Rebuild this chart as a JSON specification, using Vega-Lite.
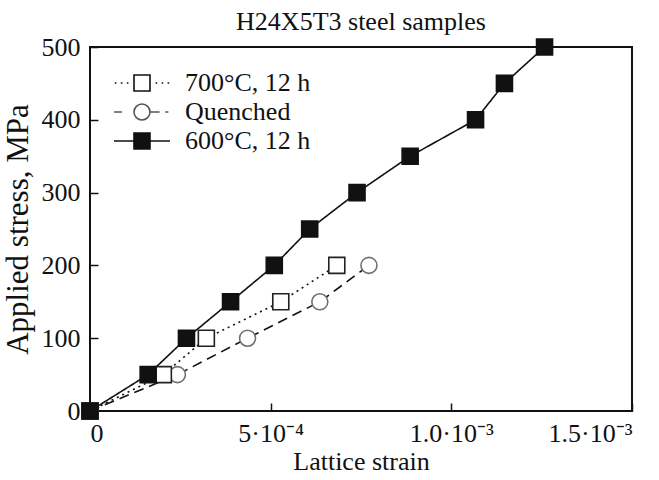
{
  "$schema": "https://vega.github.io/schema/vega-lite/v6.json",
  "autosize": "none",
  "width": 542,
  "height": 364,
  "padding": {"left": 90, "top": 47, "right": 27, "bottom": 69},
  "background": "white",
  "title": {"text": "H24X5T3 steel samples", "font": "Liberation Serif", "fontSize": 26, "fontWeight": "normal", "color": "#111", "offset": -1},
  "config": {
    "view": {"stroke": "#111", "strokeWidth": 2},
    "axis": {"labelFont": "Liberation Serif", "titleFont": "Liberation Serif", "labelFontSize": 26, "titleFontSize": 26, "titleFontWeight": "normal", "labelColor": "#111", "titleColor": "#111", "grid": false, "domain": false, "tickColor": "#111", "tickWidth": 1.5}
  },
  "data": {"values": [
    {"series": "Quenched", "strain": 0, "stress": 0},
    {"series": "Quenched", "strain": 0.000242, "stress": 50},
    {"series": "Quenched", "strain": 0.000436, "stress": 100},
    {"series": "Quenched", "strain": 0.000636, "stress": 150},
    {"series": "Quenched", "strain": 0.000772, "stress": 200},
    {"series": "700°C, 12 h", "strain": 0, "stress": 0},
    {"series": "700°C, 12 h", "strain": 0.000203, "stress": 50},
    {"series": "700°C, 12 h", "strain": 0.000322, "stress": 100},
    {"series": "700°C, 12 h", "strain": 0.000528, "stress": 150},
    {"series": "700°C, 12 h", "strain": 0.000683, "stress": 200},
    {"series": "600°C, 12 h", "strain": 0, "stress": 0},
    {"series": "600°C, 12 h", "strain": 0.000161, "stress": 50},
    {"series": "600°C, 12 h", "strain": 0.000267, "stress": 100},
    {"series": "600°C, 12 h", "strain": 0.000389, "stress": 150},
    {"series": "600°C, 12 h", "strain": 0.000510, "stress": 200},
    {"series": "600°C, 12 h", "strain": 0.000608, "stress": 250},
    {"series": "600°C, 12 h", "strain": 0.000739, "stress": 300},
    {"series": "600°C, 12 h", "strain": 0.000886, "stress": 350},
    {"series": "600°C, 12 h", "strain": 0.001067, "stress": 400},
    {"series": "600°C, 12 h", "strain": 0.001147, "stress": 450},
    {"series": "600°C, 12 h", "strain": 0.001258, "stress": 500}
  ]},
  "encoding": {
    "x": {"field": "strain", "type": "quantitative", "scale": {"domain": [0, 0.0015], "nice": false, "zero": false},
      "axis": {"title": "Lattice strain", "values": [0, 0.0005, 0.001, 0.0015], "tickSize": -8, "labelPadding": 17, "titlePadding": 2,
        "labelExpr": "datum.value == 0 ? '0' : datum.value < 0.0007 ? '5·10⁻⁴' : datum.value < 0.0012 ? '1.0·10⁻³' : '1.5·10⁻³'"}},
    "y": {"field": "stress", "type": "quantitative", "scale": {"domain": [0, 500], "nice": false},
      "axis": {"title": "Applied stress, MPa", "titleFontSize": 31, "values": [0, 100, 200, 300, 400, 500], "tickSize": -8, "labelPadding": 18, "titlePadding": 7}}
  },
  "resolve": {"scale": {"shape": "independent", "fill": "independent", "stroke": "independent"}},
  "layer": [
    {
      "mark": {"type": "line", "strokeWidth": 1.6, "color": "#111"},
      "encoding": {
        "detail": {"field": "series"},
        "strokeDash": {"field": "series", "type": "nominal", "legend": null,
          "scale": {"domain": ["600°C, 12 h", "Quenched", "700°C, 12 h"], "range": [[1, 0], [10, 6], [2, 4]]}}
      }
    },
    {
      "mark": {"type": "point", "filled": true, "size": 256, "strokeWidth": 1.6, "opacity": 1},
      "encoding": {
        "shape": {"field": "series", "type": "nominal", "legend": null,
          "scale": {"domain": ["Quenched", "600°C, 12 h", "700°C, 12 h"], "range": ["circle", "square", "square"]}},
        "fill": {"field": "series", "type": "nominal", "legend": null,
          "scale": {"domain": ["Quenched", "700°C, 12 h", "600°C, 12 h"], "range": ["white", "white", "#111"]}},
        "stroke": {"field": "series", "type": "nominal", "legend": null,
          "scale": {"domain": ["600°C, 12 h", "700°C, 12 h", "Quenched"], "range": ["#111", "#222", "#707070"]}}
      }
    },
    {
      "mark": {"type": "point", "filled": true, "size": 256, "strokeWidth": 1.6, "opacity": 0},
      "encoding": {
        "shape": {"field": "series", "type": "nominal",
          "scale": {"domain": ["700°C, 12 h", "Quenched", "600°C, 12 h"],
            "range": ["M-3.4,0h0.2M-2.65,0h0.2M-1.9,0h0.2M1.7,0h0.2M2.45,0h0.2M3.2,0h0.2M-1,-1H1V1H-1Z", "M-3.5,0H-2.5M1,0H2.2M2.9,0H3.3M1,0A1,1,0,1,1,-1,0A1,1,0,1,1,1,0Z", "M-3.5,0H-1M1,0H3.5M-1,-1H1V1H-1Z"]},
          "legend": {
            "title": null, "orient": "none", "legendX": 39, "legendY": 23, "padding": 0,
            "labelFont": "Liberation Serif", "labelFontSize": 26, "labelColor": "#111",
            "symbolSize": 256, "labelOffset": 30, "rowPadding": 3, "symbolOpacity": 1, "symbolStrokeWidth": 1.6
          }},
        "fill": {"field": "series", "type": "nominal",
          "scale": {"domain": ["700°C, 12 h", "Quenched", "600°C, 12 h"], "range": ["white", "white", "#111"]}},
        "stroke": {"field": "series", "type": "nominal",
          "scale": {"domain": ["700°C, 12 h", "Quenched", "600°C, 12 h"], "range": ["#111", "#555", "#111"]}}
      }
    }
  ]
}
